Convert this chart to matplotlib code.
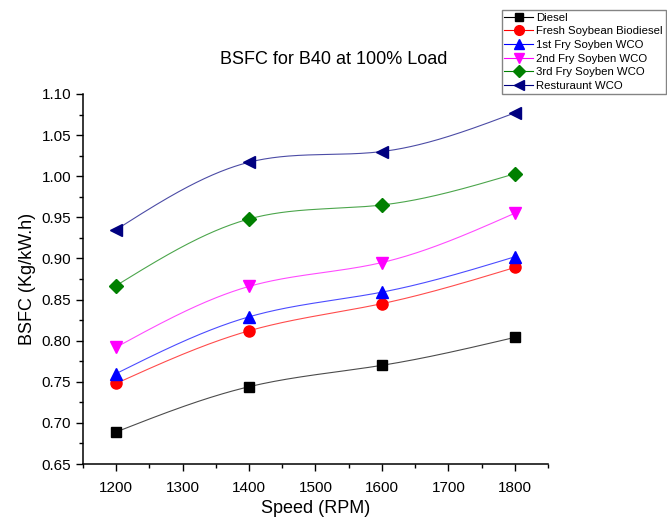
import numpy as np
import matplotlib.pyplot as plt
from matplotlib.ticker import MultipleLocator

plt.rcParams['font.family'] = ['Liberation Sans', 'DejaVu Sans']

# Data
speed = [1200, 1400, 1600, 1800]
diesel = [0.689, 0.744, 0.770, 0.804]
fresh = [0.748, 0.812, 0.845, 0.889]
fry1 = [0.760, 0.829, 0.859, 0.902]
fry2 = [0.792, 0.866, 0.895, 0.955]
fry3 = [0.867, 0.948, 0.965, 1.003]
resto = [0.935, 1.017, 1.030, 1.077]

labels = ['Diesel', 'Fresh Soybean Biodiesel', '1st Fry Soyben WCO',
          '2nd Fry Soyben WCO', '3rd Fry Soyben WCO', 'Resturaunt WCO']


def spline(x, y, n=200):
    # natural cubic spline, only for drawing the smooth connecting line
    x = np.asarray(x, float)
    y = np.asarray(y, float)
    k = len(x)
    h = np.diff(x)
    A = np.zeros((k, k))
    b = np.zeros(k)
    A[0, 0] = A[-1, -1] = 1
    for i in range(1, k - 1):
        A[i, i - 1] = h[i - 1]
        A[i, i] = 2 * (h[i - 1] + h[i])
        A[i, i + 1] = h[i]
        b[i] = 6 * ((y[i + 1] - y[i]) / h[i] - (y[i] - y[i - 1]) / h[i - 1])
    M = np.linalg.solve(A, b)
    xs = np.linspace(x[0], x[-1], n)
    idx = np.clip(np.searchsorted(x, xs) - 1, 0, k - 2)
    x0, x1 = x[idx], x[idx + 1]
    hh = x1 - x0
    t0 = x1 - xs
    t1 = xs - x0
    ys = (M[idx] * t0 ** 3 / (6 * hh) + M[idx + 1] * t1 ** 3 / (6 * hh)
          + (y[idx] / hh - M[idx] * hh / 6) * t0
          + (y[idx + 1] / hh - M[idx + 1] * hh / 6) * t1)
    return xs, ys


fig = plt.figure(figsize=(6.67, 5.23), dpi=100)
ax = fig.add_axes([0.1244, 0.1128, 0.6972, 0.7075])

series = [diesel, fresh, fry1, fry2, fry3, resto]
markers = ['s', 'o', '^', 'v', 'D', '<']
colors = ['black', 'red', 'blue', 'magenta', 'green', 'navy']
msizes = [7, 8, 8, 8, 7, 8]
handles = []
for vals, m, c, ms, lab in zip(series, markers, colors, msizes, labels):
    xs, ys = spline(speed, vals)
    ax.plot(xs, ys, color=c, lw=0.8, alpha=0.7)
    ax.plot(speed, vals, linestyle='none', marker=m, color=c, ms=ms)
    h, = ax.plot([], [], color=c, lw=0.8, marker=m, ms=ms - 1, label=lab)
    handles.append(h)

ax.set_xlim(1150, 1850)
ax.set_ylim(0.65, 1.10)
ax.xaxis.set_major_locator(MultipleLocator(100))
ax.xaxis.set_minor_locator(MultipleLocator(50))
ax.yaxis.set_major_locator(MultipleLocator(0.05))
ax.yaxis.set_minor_locator(MultipleLocator(0.025))
ax.yaxis.set_major_formatter(plt.FormatStrFormatter('%.2f'))
ax.tick_params(which='major', direction='out', length=5, width=1, labelsize=11)
ax.tick_params(axis='x', which='major', pad=7)
ax.tick_params(which='minor', direction='out', length=3, width=1)
for s in ['top', 'right']:
    ax.spines[s].set_visible(False)
for s in ['left', 'bottom']:
    ax.spines[s].set_linewidth(1.1)

ax.set_xlabel('Speed (RPM)', fontsize=13)
ax.set_ylabel('BSFC (Kg/kW.h)', fontsize=13)
fig.text(0.5, 0.878, 'BSFC for B40 at 100% Load', ha='center', fontsize=13)

leg = fig.legend(handles=handles, loc='upper left', bbox_to_anchor=(0.752, 0.981),
                 fontsize=8.2, frameon=True, fancybox=False, edgecolor='#666666',
                 handlelength=2.5, handletextpad=0.3, borderpad=0.25,
                 labelspacing=0.32, borderaxespad=0)
leg.get_frame().set_linewidth(1)

plt.savefig('out.png', dpi=100)
